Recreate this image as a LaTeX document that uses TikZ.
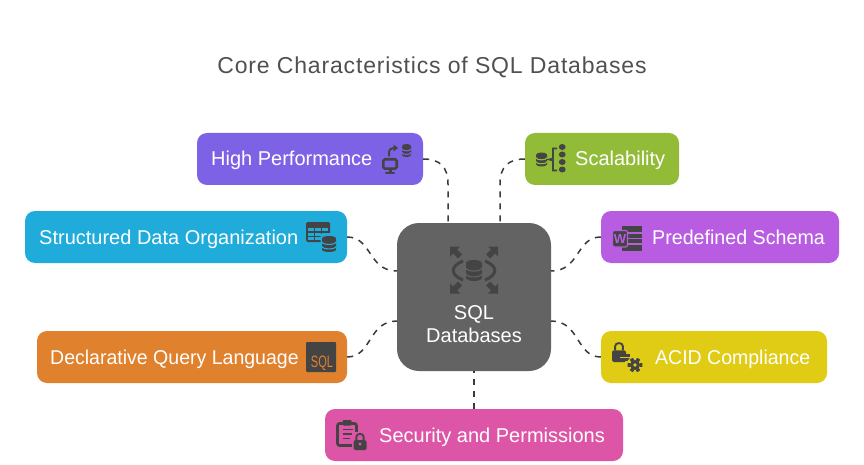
\documentclass[tikz,border=0pt]{standalone}
\usepackage{graphicx}
\usepackage{fontspec}
\setmainfont{Liberation Sans}
\newfontfamily\titlefont[LetterSpace=3.6]{Liberation Sans}
\usetikzlibrary{arrows.meta}
\definecolor{ink}{HTML}{444444}
\definecolor{titlec}{HTML}{505050}
\definecolor{linkc}{HTML}{3A3A3A}
\definecolor{cperf}{HTML}{7E62E6}
\definecolor{cscal}{HTML}{92BC38}
\definecolor{cstruct}{HTML}{1FACDB}
\definecolor{cpre}{HTML}{B85CE2}
\definecolor{cdecl}{HTML}{DF812D}
\definecolor{cacid}{HTML}{E0CC14}
\definecolor{csec}{HTML}{DD55A6}
\definecolor{ccore}{HTML}{636363}
\tikzset{
  card/.style={inner sep=0pt,rounded corners=10pt,minimum height=52pt},
  cardtext/.style={text=white,anchor=base west,inner sep=0pt,font=\fontsize{20}{24}\selectfont},
  link/.style={draw=linkc,line width=1.5pt,dash pattern=on 6pt off 6pt},
}
% stacked disc icon: centre x, top y, width, height, background colour
\newcommand{\discs}[5]{%
  \pgfmathsetmacro{\rx}{#3/2}%
  \pgfmathsetmacro{\ry}{#4*0.16}%
  \pgfmathsetmacro{\bt}{#2+#4}%
  \pgfmathsetmacro{\one}{#2+#4*0.37}%
  \pgfmathsetmacro{\two}{#2+#4*0.65}%
  \fill[ink] (#1-\rx,#2+\ry) .. controls (#1-\rx,#2-\ry*0.33) and (#1+\rx,#2-\ry*0.33) .. (#1+\rx,#2+\ry)
     -- (#1+\rx,\bt-\ry) .. controls (#1+\rx,\bt+\ry*0.33) and (#1-\rx,\bt+\ry*0.33) .. (#1-\rx,\bt-\ry) -- cycle;
  \draw[#5,line width=1.1pt] (#1-\rx,\one) .. controls (#1-\rx,\one+\ry*1.3) and (#1+\rx,\one+\ry*1.3) .. (#1+\rx,\one);
  \draw[#5,line width=1.1pt] (#1-\rx,\two) .. controls (#1-\rx,\two+\ry*1.3) and (#1+\rx,\two+\ry*1.3) .. (#1+\rx,\two);
}
% padlock: left x, top y, width, height
\newcommand{\padlock}[4]{%
  \pgfmathsetmacro{\by}{#2+#4*0.42}%
  \draw[ink,line width=1.9pt] (#1+#3*0.22,\by) -- (#1+#3*0.22,#2+#4*0.22) .. controls (#1+#3*0.22,#2) and (#1+#3*0.78,#2) .. (#1+#3*0.78,#2+#4*0.22) -- (#1+#3*0.78,\by);
  \fill[ink,rounded corners=1.5pt] (#1,\by) rectangle (#1+#3,#2+#4);
}
% block arrow pointing at the corner (#1,#2), directions #3 and #4 are +1/-1
\newcommand{\cornerarrow}[4]{%
  \fill[ink] (#1,#2) -- ++(#3*10,0) -- ++(#3*-3,#4*3) -- ++(#3*5,#4*5) -- ++(#3*-4,#4*4) -- ++(#3*-5,#4*-5) -- ++(#3*-3,#4*3) -- cycle;
}
\begin{document}
\begin{tikzpicture}[x=1pt,y=-1pt]
\useasboundingbox (0,0) rectangle (864,465);
\fill[white] (0,0) rectangle (864,465);

\node[inner sep=0pt,anchor=base,text=titlec,font=\titlefont\fontsize{23}{28}\selectfont] (title) at (432,74) {Core Characteristics of SQL Databases};

% boxes
\node[card,fill=ccore,minimum width=154pt,minimum height=148pt,rounded corners=22pt] (core) at (474,297) {};
\node[card,fill=cperf,minimum width=226pt] (perf) at (310,159) {};
\node[card,fill=cscal,minimum width=154pt] (scal) at (602,159) {};
\node[card,fill=cstruct,minimum width=322pt] (struct) at (186,237) {};
\node[card,fill=cpre,minimum width=238pt] (pre) at (720,237) {};
\node[card,fill=cdecl,minimum width=310pt] (decl) at (192,357) {};
\node[card,fill=cacid,minimum width=226pt] (acid) at (714,357) {};
\node[card,fill=csec,minimum width=298pt] (sec) at (474,435) {};

% attachment points on the central box
\coordinate (coreNL) at (448,223);
\coordinate (coreNR) at (500,223);
\coordinate (coreWU) at (397,271);
\coordinate (coreWD) at (397,321);
\coordinate (coreEU) at (551,271);
\coordinate (coreED) at (551,321);

% connectors
\draw[link] (perf.east) .. controls (440,159) and (448,167) .. (448,184) -- (coreNL);
\draw[link] (scal.west) .. controls (508,159) and (500,167) .. (500,184) -- (coreNR);
\draw[link] (struct.east) .. controls (372,237) and (368,271) .. (coreWU);
\draw[link] (pre.west) .. controls (576,237) and (580,271) .. (coreEU);
\draw[link] (decl.east) .. controls (372,357) and (368,321) .. (coreWD);
\draw[link] (acid.west) .. controls (576,357) and (580,321) .. (coreED);
\draw[link] (sec.north) -- (core.south);

% labels
\node[cardtext] (tperf) at (211,166) {High Performance};
\node[cardtext] (tscal) at (575,166) {Scalability};
\node[cardtext] (tstruct) at (39,244) {Structured Data Organization};
\node[cardtext] (tpre) at (652,244) {\scalebox{.983}[1]{Predefined Schema}};
\node[cardtext] (tdecl) at (50,364) {\scalebox{.976}[1]{Declarative Query Language}};
\node[cardtext] (tacid) at (655,364) {\scalebox{.975}[1]{ACID Compliance}};
\node[cardtext] (tsec) at (379,442) {Security and Permissions};
\node[cardtext,anchor=base] (tcore1) at (474,319) {SQL};
\node[cardtext,anchor=base] (tcore2) at (474,342) {Databases};

% --- icons ---
% central
\discs{474}{260}{16}{21}{ccore}
\draw[ink,line width=3pt] (463,261) .. controls (450,266) and (450,275) .. (463,280);
\draw[ink,line width=3pt] (485,261) .. controls (498,266) and (498,275) .. (485,280);
\cornerarrow{450}{246.5}{1}{1}
\cornerarrow{498}{246.5}{-1}{1}
\cornerarrow{450}{293.5}{1}{-1}
\cornerarrow{498}{293.5}{-1}{-1}

% high performance
\draw[ink,line width=2.6pt,rounded corners=1.5pt] (383.3,159.3) rectangle (396.7,168.7);
\fill[ink] (388.5,170) rectangle (391.5,172.5);
\fill[ink,rounded corners=1pt] (385,171.8) rectangle (395,174);
\draw[ink,line width=2pt,-{Triangle[length=4.5pt,width=7pt]}] (389,156.5) -- (389,153) .. controls (389,149.5) and (391,148) .. (398,148);
\discs{406.5}{144}{9}{13}{cperf}

% table with disc
\fill[ink,rounded corners=1.5pt] (306,222) rectangle (330,242);
\foreach \xx in {308,315,322} {\fill[cstruct] (\xx,228) rectangle +(6,3);}
\foreach \xx in {308,315,322} {\fill[cstruct] (\xx,232.5) rectangle +(6,3);}
\foreach \xx in {308,315} {\fill[cstruct] (\xx,237) rectangle +(6,3);}
\fill[cstruct] (320.5,234.5) .. controls (320.5,232.5) and (337.5,232.5) .. (337.5,234.5) -- (337.5,253) -- (320.5,253) -- cycle;
\discs{329}{236}{14}{16}{cstruct}

% scalability
\discs{541.5}{152.5}{11}{14}{cscal}
\draw[ink,line width=1.8pt] (557,148.5) -- (553,148.5) -- (553,158.5) -- (549.5,159.5) -- (553,160.5) -- (553,170.5) -- (557,170.5);
\foreach \yy in {147,154.5,162,169.5} {\fill[ink] (562.2,\yy) ellipse[x radius=3.4pt,y radius=3pt];}

% word file
\fill[ink] (622,226) rectangle (642,251);
\foreach \yy in {233,238.5,244} {\draw[cpre,line width=1.1pt] (628,\yy) -- (642,\yy);}
\draw[cpre,line width=1.2pt,fill=ink,rounded corners=2pt] (612.5,230.5) rectangle (627.5,247);
\node[inner sep=0pt,text=cpre,font=\bfseries\fontsize{13}{15}\selectfont] (wmark) at (620,238.8) {W};

% sql
\fill[ink,rounded corners=1pt] (306,342) rectangle (336,372);
\node[inner sep=0pt,anchor=base,text=cdecl,font=\fontsize{16.5}{18}\selectfont] (sqlmark) at (322,367) {\scalebox{.67}[1]{SQL}};

% lock and gear
\padlock{612}{342}{14}{20}
\fill[ink] (625,354) rectangle (630,361);
\draw[cacid,line width=1.1pt] (620,357.5) -- (630,357.5);
\fill[cacid] (635,365) circle[radius=8.5pt];
\fill[ink] (635,365) circle[radius=5pt];
\foreach \aa in {0,60,...,300} {\fill[ink] (635,365) ++(\aa:4.5) -- ++(\aa+90:1.8) -- ++(\aa:2.8) -- ++(\aa-90:3.6) -- ++(\aa+180:2.8) -- cycle;}
\fill[cacid] (635,365) circle[radius=1.8pt];

% clipboard and lock
\draw[ink,line width=2.6pt,rounded corners=2pt] (337.5,423.5) rectangle (356.5,445.5);
\fill[ink,rounded corners=1pt] (342.5,420) rectangle (351.5,425.5);
\foreach \yy/\ww in {429.5/10,434/10,438.5/7} {\draw[ink,line width=1.6pt] (342.5,\yy) -- ++(\ww,0);}
\fill[csec] (352,432) rectangle (368,451);
\padlock{353.5}{433}{13}{17}
\fill[csec] (360,444) circle[radius=1.6pt];
\end{tikzpicture}
\end{document}
